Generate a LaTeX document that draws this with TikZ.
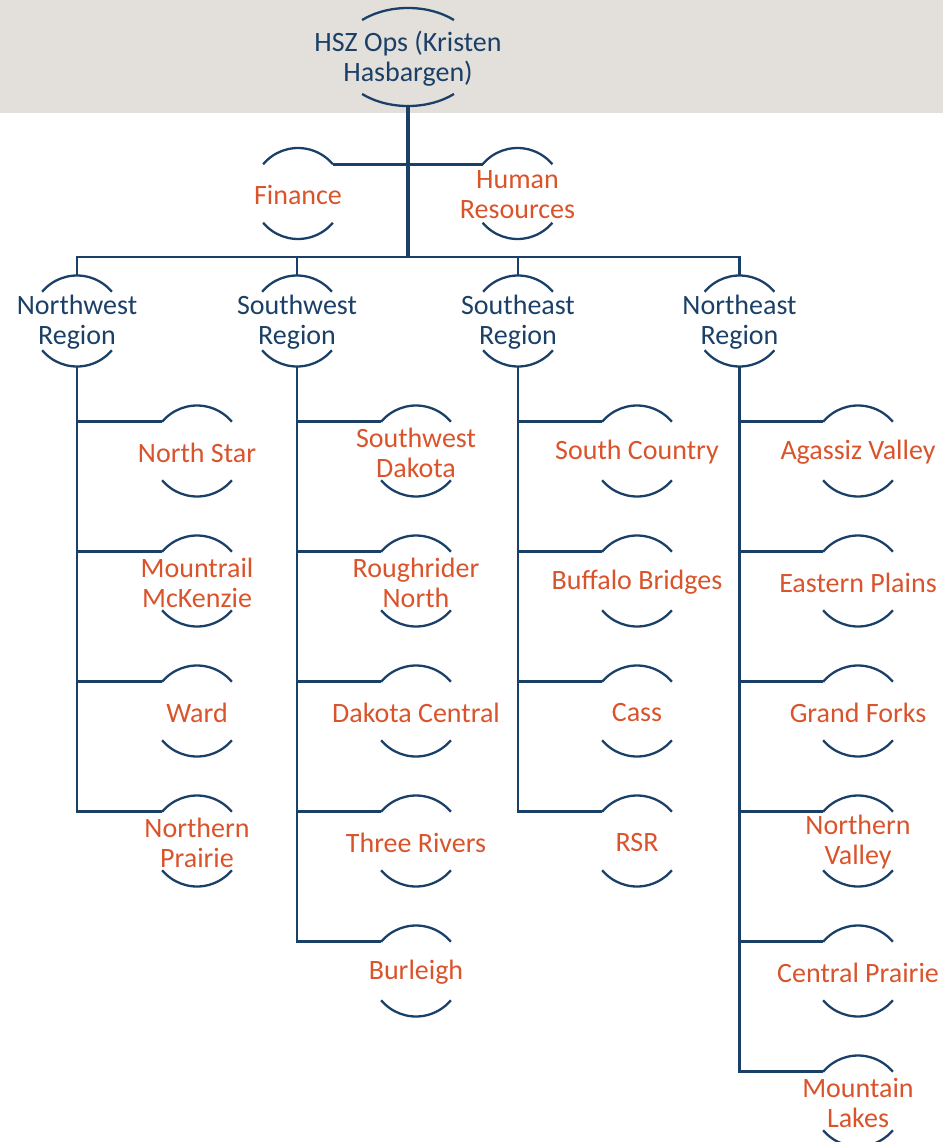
\documentclass[tikz,border=0pt]{standalone}
\usepackage{fontspec}
\setmainfont{Carlito}
\definecolor{navy}{HTML}{1B4068}
\definecolor{orng}{HTML}{D9532B}
\definecolor{band}{HTML}{E3E0DB}
\tikzset{
  lbl/.style={align=center, font=\fontsize{28}{30}\selectfont, inner sep=0pt, yshift=-1.5pt},
  arcline/.style={draw=navy, line width=2.3pt},
  conn/.style={draw=navy, line width=2.8pt, line join=miter},
  trunk/.style={draw=navy, line width=4pt},
}
\newcommand\orgnode[5]{%
  \node[lbl, text=#4] (#1) at (#2,#3) {#5};
  \coordinate (#1-c) at (#2,#3);
  \coordinate (#1-tl) at ([shift={(-34.85,-29.25)}]#1-c);
  \coordinate (#1-tr) at ([shift={(34.85,-29.25)}]#1-c);
  \coordinate (#1-bl) at ([shift={(-34.85,29.25)}]#1-c);
  \coordinate (#1-top) at ([shift={(0,-45.5)}]#1-c);
  \coordinate (#1-bot) at ([shift={(0,45.5)}]#1-c);
  \draw[arcline] (#1-tl) arc[start angle=220, end angle=320, radius=45.5];
  \draw[arcline] (#1-bl) arc[start angle=140, end angle=40, radius=45.5];
}
\begin{document}
\begin{tikzpicture}[x=1pt, y=-1pt]
\useasboundingbox (0,0) rectangle (943,1142);
\fill[band] (0,0) rectangle (943,113);
% top node
\node[lbl, text=navy] (hsz) at (408,57) {HSZ Ops (Kristen\\Hasbargen)};
\coordinate (hsz-c) at (408,57);
\coordinate (hsz-tl) at ([shift={(-45.9,-37)}]hsz-c);
\coordinate (hsz-bl) at ([shift={(-45.9,37)}]hsz-c);
\coordinate (hsz-bot) at ([shift={(0,49)}]hsz-c);
\draw[arcline] (hsz-tl) arc[start angle=229, end angle=311, x radius=70, y radius=49];
\draw[arcline] (hsz-bl) arc[start angle=131, end angle=49, x radius=70, y radius=49];
% staff
\orgnode{fin}{298}{193.5}{orng}{Finance}
\orgnode{hr}{517.5}{193.5}{orng}{Human\\Resources}
% regions
\orgnode{nw}{77}{321}{navy}{Northwest\\Region}
\orgnode{sw}{297}{321}{navy}{Southwest\\Region}
\orgnode{se}{518}{321}{navy}{Southeast\\Region}
\orgnode{ne}{739.5}{321}{navy}{Northeast\\Region}
% northwest
\orgnode{ns}{197}{451}{orng}{North Star}
\orgnode{mm}{197}{581}{orng}{Mountrail\\McKenzie}
\orgnode{wd}{197}{711}{orng}{Ward}
\orgnode{np}{197}{841}{orng}{Northern\\Prairie}
% southwest
\orgnode{sd}{416}{451}{orng}{Southwest\\Dakota}
\orgnode{rn}{416}{581}{orng}{Roughrider\\North}
\orgnode{dc}{416}{711}{orng}{Dakota Central}
\orgnode{tr}{416}{841}{orng}{Three Rivers}
\orgnode{bu}{416}{971}{orng}{Burleigh}
% southeast
\orgnode{sc}{637}{451}{orng}{South Country}
\orgnode{bb}{637}{581}{orng}{Buffalo Bridges}
\orgnode{cs}{637}{711}{orng}{Cass}
\orgnode{rs}{637}{841}{orng}{RSR}
% northeast
\orgnode{av}{858}{451}{orng}{Agassiz Valley}
\orgnode{ep}{858}{581}{orng}{Eastern Plains}
\orgnode{gf}{858}{711}{orng}{Grand Forks}
\orgnode{nv}{858}{841}{orng}{Northern\\Valley}
\orgnode{cp}{858}{971}{orng}{Central Prairie}
\orgnode{ml}{858}{1101}{orng}{Mountain\\Lakes}
% connectors
\coordinate (bus) at (408,257);
\draw[trunk] (hsz-bot) -- (hsz-bot |- bus);
\draw[conn] (fin-tr) -- (hr-tl);
\draw[conn] (nw-top) -- (nw-top |- bus) -- (ne-top |- bus) -- (ne-top);
\draw[conn] (sw-top |- bus) -- (sw-top);
\draw[conn] (se-top |- bus) -- (se-top);
% region verticals
\draw[conn] (nw-bot) |- (np-tl);
\foreach \c in {ns,mm,wd} \draw[conn] (nw-bot |- \c-tl) -- (\c-tl);
\draw[conn] (sw-bot) |- (bu-tl);
\foreach \c in {sd,rn,dc,tr} \draw[conn] (sw-bot |- \c-tl) -- (\c-tl);
\draw[conn] (se-bot) |- (rs-tl);
\foreach \c in {sc,bb,cs} \draw[conn] (se-bot |- \c-tl) -- (\c-tl);
\draw[conn] (ne-bot) |- (ml-tl);
\foreach \c in {av,ep,gf,nv,cp} \draw[conn] (ne-bot |- \c-tl) -- (\c-tl);
\end{tikzpicture}
\end{document}
